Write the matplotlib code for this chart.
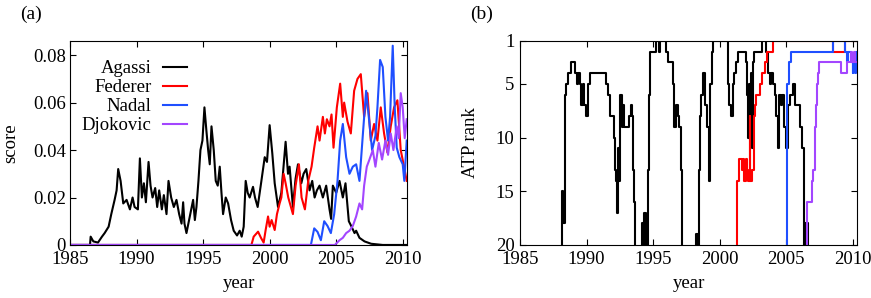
import matplotlib
matplotlib.use('Agg')
import matplotlib.pyplot as plt
from matplotlib.ticker import FuncFormatter

plt.rcParams['font.family'] = ['Liberation Serif', 'DejaVu Serif']
plt.rcParams['font.size'] = 13.5

names = ['Agassi', 'Federer', 'Nadal', 'Djokovic']
colors = ['black', '#ff0000', '#1f4fff', '#a346ff']

# (a) score vs year
agassi_yr = [1985, 1986.5, 1986.55, 1986.75, 1987.1, 1987.4, 1987.6, 1987.9, 1988.1, 1988.35,
             1988.5, 1988.62, 1988.8, 1989.0, 1989.25, 1989.5, 1989.7, 1989.85, 1990.1, 1990.25,
             1990.4, 1990.55, 1990.7, 1990.9, 1991.05, 1991.2, 1991.4, 1991.55, 1991.7, 1991.9,
             1992.05, 1992.25, 1992.4, 1992.6, 1992.8, 1993.0, 1993.2, 1993.38, 1993.5, 1993.6,
             1993.75, 1994.0, 1994.25, 1994.38, 1994.5, 1994.65, 1994.8, 1994.95, 1995.1, 1995.25,
             1995.38, 1995.5, 1995.63, 1995.8, 1995.95, 1996.1, 1996.25, 1996.38, 1996.5, 1996.7,
             1996.88, 1997.1, 1997.3, 1997.55, 1997.75, 1997.9, 1998.05, 1998.2, 1998.35, 1998.5,
             1998.75, 1998.9, 1999.1, 1999.38, 1999.63, 1999.8, 2000.0, 2000.2, 2000.38, 2000.63,
             2000.88, 2001.2, 2001.38, 2001.5, 2001.75, 2001.95, 2002.13, 2002.38, 2002.55, 2002.75,
             2003.0, 2003.2, 2003.38, 2003.55, 2003.75, 2004.0, 2004.25, 2004.5, 2004.62, 2004.75,
             2005.0, 2005.25, 2005.5, 2005.7, 2005.95, 2006.13, 2006.38, 2006.5, 2006.75, 2007.13,
             2007.63, 2008.5, 2010.35]
agassi_sc = [0, 0, 0.0035, 0.0015, 0.001, 0.0035, 0.005, 0.0077, 0.013, 0.019,
             0.023, 0.032, 0.027, 0.0175, 0.019, 0.015, 0.02, 0.016, 0.015, 0.0365,
             0.02, 0.026, 0.018, 0.035, 0.025, 0.02, 0.024, 0.016, 0.023, 0.015,
             0.021, 0.013, 0.027, 0.02, 0.016, 0.019, 0.013, 0.009, 0.018, 0.009,
             0.005, 0.012, 0.019, 0.0105, 0.016, 0.027, 0.04, 0.044, 0.058, 0.048,
             0.04, 0.034, 0.05, 0.04, 0.027, 0.025, 0.033, 0.022, 0.013, 0.02,
             0.0175, 0.0105, 0.006, 0.004, 0.006, 0.0035, 0.0077, 0.027, 0.022, 0.02,
             0.0245, 0.02, 0.016, 0.027, 0.037, 0.035, 0.0505, 0.0386, 0.026, 0.016,
             0.022, 0.0435, 0.03, 0.033, 0.016, 0.028, 0.034, 0.026, 0.03, 0.032,
             0.023, 0.027, 0.02, 0.023, 0.025, 0.02, 0.025, 0.015, 0.011, 0.025,
             0.022, 0.027, 0.02, 0.026, 0.01, 0.008, 0.005, 0.006, 0.003, 0.0015,
             0.0005, 0, 0]

federer_yr = [1985, 1998.63, 1998.8, 1999.13, 1999.35, 1999.55, 1999.7, 1999.88, 2000.0, 2000.15,
              2000.38, 2000.55, 2000.75, 2000.88, 2001.05, 2001.2, 2001.4, 2001.55, 2001.75, 2001.95,
              2002.2, 2002.4, 2002.65, 2002.9, 2003.15, 2003.35, 2003.6, 2003.75, 2004.0, 2004.15,
              2004.3, 2004.5, 2004.65, 2004.8, 2005.05, 2005.3, 2005.5, 2005.6, 2005.85, 2006.1,
              2006.35, 2006.6, 2006.85, 2007.1, 2007.35, 2007.6, 2007.85, 2008.1, 2008.35, 2008.6,
              2008.85, 2009.1, 2009.35, 2009.6, 2009.85, 2010.1, 2010.3]
federer_sc = [0, 0, 0.0035, 0.0056, 0.003, 0.001, 0.0063, 0.012, 0.0077, 0.0105,
              0.0063, 0.013, 0.0175, 0.02, 0.03, 0.026, 0.02, 0.017, 0.013, 0.025,
              0.034, 0.02, 0.015, 0.027, 0.033, 0.041, 0.05, 0.044, 0.054, 0.047,
              0.053, 0.05, 0.055, 0.041, 0.058, 0.068, 0.054, 0.06, 0.052, 0.047,
              0.065, 0.07, 0.072, 0.054, 0.064, 0.044, 0.051, 0.044, 0.058, 0.047,
              0.039, 0.05, 0.058, 0.061, 0.04, 0.033, 0.027]

nadal_yr = [1985, 2003.1, 2003.35, 2003.6, 2003.85, 2004.1, 2004.35, 2004.6, 2004.85, 2005.1,
            2005.3, 2005.5, 2005.75, 2006.0, 2006.25, 2006.5, 2006.75, 2007.05, 2007.25, 2007.45,
            2007.7, 2007.95, 2008.1, 2008.3, 2008.5, 2008.7, 2008.9, 2009.05, 2009.25, 2009.4,
            2009.55, 2009.75, 2010.0, 2010.12, 2010.3]
nadal_sc = [0, 0, 0.007, 0.0055, 0.002, 0.01, 0.008, 0.005, 0.013, 0.027,
            0.044, 0.051, 0.037, 0.03, 0.033, 0.034, 0.027, 0.05, 0.065, 0.054,
            0.04, 0.046, 0.058, 0.078, 0.075, 0.054, 0.044, 0.054, 0.084, 0.058,
            0.041, 0.037, 0.034, 0.027, 0.044]

djokovic_yr = [1985, 2004.9, 2005.25, 2005.5, 2005.75, 2006.0, 2006.25, 2006.5, 2006.75, 2006.95,
               2007.1, 2007.3, 2007.5, 2007.75, 2007.95, 2008.2, 2008.45, 2008.7, 2008.9, 2009.1,
               2009.3, 2009.55, 2009.7, 2009.85, 2010.0, 2010.15, 2010.3]
djokovic_sc = [0, 0, 0.002, 0.003, 0.005, 0.006, 0.008, 0.012, 0.0175, 0.015,
               0.025, 0.033, 0.036, 0.04, 0.033, 0.043, 0.036, 0.044, 0.038, 0.047,
               0.04, 0.05, 0.045, 0.064, 0.058, 0.045, 0.053]

# (b) ATP rank vs year (30 = outside top 20)
agassi_rk_yr = [1985, 1988.13, 1988.25, 1988.35, 1988.45, 1988.6, 1988.85, 1989.15, 1989.3, 1989.38,
                1989.5, 1989.62, 1989.7, 1989.8, 1989.95, 1990.12, 1990.25, 1991.45, 1991.6, 1991.75,
                1992.05, 1992.12, 1992.2, 1992.28, 1992.35, 1992.45, 1992.55, 1992.65, 1992.75, 1992.85,
                1993.2, 1993.32, 1993.45, 1993.52, 1993.6, 1993.68, 1994.2, 1994.3, 1994.35, 1994.45,
                1994.6, 1994.68, 1994.8, 1995.2, 1995.45, 1995.55, 1995.95, 1996.12, 1996.48, 1996.6,
                1996.7, 1996.85, 1996.95, 1997.08, 1997.2, 1998.25, 1998.35, 1998.42, 1998.52, 1998.62,
                1998.75, 1998.88, 1999.05, 1999.22, 1999.3, 1999.4, 1999.52, 2000.6, 2000.72, 2000.85,
                2000.98, 2001.1, 2001.25, 2001.35, 2001.95, 2002.05, 2002.12, 2002.2, 2002.3, 2002.38,
                2002.45, 2002.52, 2002.62, 2003.2, 2003.5, 2003.6, 2003.75, 2003.9, 2004.0, 2004.15,
                2004.25, 2004.38, 2004.48, 2004.6, 2004.7, 2004.85, 2005.0, 2005.12, 2005.3, 2005.55,
                2005.7, 2006.05, 2006.2, 2006.35, 2006.42, 2006.62, 2010.35]
agassi_rk = [30, 15, 18, 6, 5, 4, 3, 4, 5, 4,
             5, 7, 5, 7, 8, 5, 4, 5, 6, 8,
             10, 13, 14, 17, 11, 14, 6, 9, 7, 9,
             8, 7, 8, 13, 16, 30, 18, 30, 17, 30,
             13, 6, 2, 1, 2, 1, 2, 3, 5, 9,
             7, 8, 9, 13, 30, 19, 30, 13, 8, 6,
             4, 7, 9, 14, 5, 2, 1, 5, 7, 8,
             5, 4, 3, 2, 3, 6, 10, 5, 8, 4,
             11, 3, 2, 1, 2, 4, 5, 4, 5, 6,
             8, 11, 6, 7, 6, 9, 11, 7, 6, 5,
             7, 9, 11, 20, 18, 30, 30]

federer_rk_yr = [1985, 2001.3, 2001.45, 2001.65, 2001.75, 2001.85, 2001.95, 2002.05, 2002.15, 2002.25,
                 2002.3, 2002.4, 2002.55, 2002.65, 2002.75, 2003.05, 2003.2, 2003.4, 2003.55, 2004.0,
                 2008.5, 2009.45, 2010.35]
federer_rk = [30, 14, 12, 13, 12, 14, 12, 13, 14, 8,
              14, 13, 8, 7, 6, 5, 4, 3, 2, 1,
              2, 1, 1]

nadal_rk_yr = [1985, 2005.1, 2005.2, 2005.35, 2008.5, 2009.45, 2009.55, 2009.62, 2009.9, 2010.0,
               2010.05, 2010.15, 2010.25, 2010.35]
nadal_rk = [30, 5, 3, 2, 1, 2, 3, 2, 3, 4,
            3, 4, 2, 2]

djokovic_rk_yr = [1985, 2006.6, 2006.95, 2007.05, 2007.15, 2007.22, 2007.3, 2007.4, 2007.5, 2009.1,
                  2009.6, 2009.85, 2009.95, 2010.1, 2010.2, 2010.35]
djokovic_rk = [30, 16, 14, 13, 9, 7, 5, 4, 3, 4,
               3, 2, 3, 2, 3, 3]

scores = [(agassi_yr, agassi_sc), (federer_yr, federer_sc),
          (nadal_yr, nadal_sc), (djokovic_yr, djokovic_sc)]
ranks = [(agassi_rk_yr, agassi_rk), (federer_rk_yr, federer_rk),
         (nadal_rk_yr, nadal_rk), (djokovic_rk_yr, djokovic_rk)]

fig = plt.figure(figsize=(8.71, 2.98), dpi=100)
ax1 = fig.add_axes([0.0804, 0.178, 0.387, 0.6846])
ax2 = fig.add_axes([0.597, 0.178, 0.387, 0.6846])

for (x, y), name, c in zip(scores, names, colors):
    ax1.plot(x, y, color=c, lw=1.5, label=name)

for (x, y), c in zip(ranks, colors):
    ax2.plot(x, y, color=c, lw=1.5, drawstyle='steps-post')

for ax in (ax1, ax2):
    ax.set_xlim(1985, 2010.33)
    ax.set_xticks([1985, 1990, 1995, 2000, 2005, 2010])
    ax.tick_params(direction='in', top=True, right=True, length=4.5, width=0.8)
    ax.tick_params(axis='x', pad=4)
    ax.set_xlabel('year')
    ax.xaxis.set_label_coords(0.5, -0.145)
    for s in ax.spines.values():
        s.set_linewidth(0.8)

ax1.set_ylim(0, 0.086)
ax1.set_yticks([0, 0.02, 0.04, 0.06, 0.08])
ax1.yaxis.set_major_formatter(FuncFormatter(lambda v, p: '0' if v == 0 else '%.2f' % v))
ax1.tick_params(axis='y', pad=3)
ax1.set_ylabel('score')
ax1.yaxis.set_label_coords(-0.152, 0.5)

ax2.set_ylim(20, 1)
ax2.set_yticks([1, 5, 10, 15, 20])
ax2.tick_params(axis='y', pad=4)
ax2.set_ylabel('ATP rank')
ax2.yaxis.set_label_coords(-0.123, 0.5)

ax1.legend(loc='upper left', bbox_to_anchor=(0.035, 0.905), frameon=False,
           markerfirst=False, handlelength=1.3, handletextpad=0.6,
           labelspacing=0.1, borderpad=0, borderaxespad=0)

fig.text(20 / 871, 1 - 14 / 298, '(a)', ha='left', va='center', fontsize=14)
fig.text(470 / 871, 1 - 14 / 298, '(b)', ha='left', va='center', fontsize=14)

plt.savefig('out.png', dpi=100)
plt.close()
